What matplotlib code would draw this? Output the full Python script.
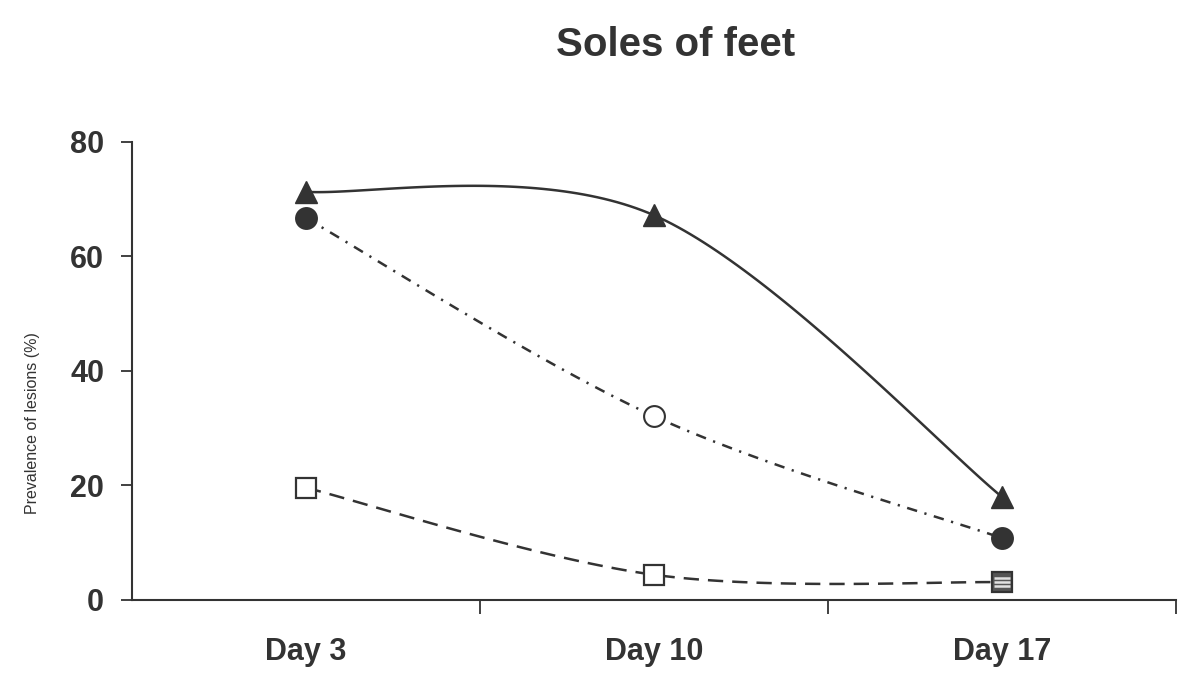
import numpy as np
import matplotlib
matplotlib.use("Agg")
import matplotlib.pyplot as plt
from matplotlib.path import Path

plt.rcParams['font.family'] = ['Liberation Sans', 'DejaVu Sans']
plt.rcParams['lines.scale_dashes'] = False

# ---- data ----
categories = ["Day 3", "Day 10", "Day 17"]
triangle_vals = [71.3, 67.2, 18.0]
circle_vals = [66.7, 32.1, 10.8]
square_vals = [19.6, 4.4, 3.1]
y_ticks = [0, 20, 40, 60, 80]
title = "Soles of feet"
ylabel = "Prevalence of lesions (%)"

INK = "#333333"


def smooth(xs, ys, n=60):
    """Excel-like smoothed line (Catmull-Rom style Bezier)."""
    P = np.column_stack([xs, ys]).astype(float)
    k = len(P)
    ext = np.vstack([P[0], P, P[-1]])
    out = []
    for i in range(k - 1):
        p0, p1, p2, p3 = ext[i], ext[i + 1], ext[i + 2], ext[i + 3]
        c1 = p1 + (p2 - p0) / 6.0
        c2 = p2 - (p3 - p1) / 6.0
        t = np.linspace(0, 1, n)[:, None]
        seg = ((1 - t) ** 3) * p1 + 3 * ((1 - t) ** 2) * t * c1 + 3 * (1 - t) * t ** 2 * c2 + t ** 3 * p2
        out.append(seg if i == 0 else seg[1:])
    c = np.vstack(out)
    return c[:, 0], c[:, 1]


fig = plt.figure(figsize=(12, 6.96), dpi=100)
ax = fig.add_axes([0.11, 0.138, 0.87, 0.658])

x = np.arange(len(categories))

# lines
sx, sy = smooth(x, triangle_vals)
ax.plot(sx, sy, color=INK, lw=1.8, solid_capstyle='butt', zorder=2)
sx, sy = smooth(x, circle_vals)
ax.plot(sx, sy, color=INK, lw=1.8, dashes=(7.5, 5.5, 1.6, 5.5), zorder=2)
sx, sy = smooth(x, square_vals)
ax.plot(sx, sy, color=INK, lw=1.8, dashes=(11.0, 6.5), zorder=2)

# markers
ax.plot(x, triangle_vals, ls='none', marker='^', ms=16, color=INK, mec=INK, zorder=4)
circ_fill = [INK, 'white', INK]
for xi, yi, fc in zip(x, circle_vals, circ_fill):
    ax.plot([xi], [yi], ls='none', marker='o', ms=15, mfc=fc, mec=INK, mew=1.5, zorder=4)
sq_fill = ['white', 'white', '#555555']
for xi, yi, fc in zip(x, square_vals, sq_fill):
    ax.plot([xi], [yi], ls='none', marker='s', ms=15, mfc=fc, mec=INK, mew=1.6, zorder=4)
stripes = Path([(-1, -0.5), (1, -0.5), (-1, 0.0), (1, 0.0), (-1, 0.5), (1, 0.5)],
               [Path.MOVETO, Path.LINETO, Path.MOVETO, Path.LINETO, Path.MOVETO, Path.LINETO])
ax.plot([x[2]], [square_vals[2]], ls='none', marker=stripes, ms=12, mec='#e0e0e0', mew=1.8, zorder=5)

# axes
ax.set_xlim(-0.5, 2.5)
ax.set_ylim(0, 80)
for s in ['top', 'right']:
    ax.spines[s].set_visible(False)
for s in ['left', 'bottom']:
    ax.spines[s].set_color(INK)
    ax.spines[s].set_linewidth(1.5)

ax.set_yticks(y_ticks)
ax.set_yticklabels([str(v) for v in y_ticks], fontsize=22, fontweight='bold', color=INK)
ax.tick_params(axis='y', direction='out', length=8, width=1.3, color=INK, pad=12)

ax.set_xticks([0.5, 1.5, 2.5])
ax.set_xticklabels([])
ax.tick_params(axis='x', direction='out', length=10, width=1.3, color=INK)
ax.set_xticks(x, minor=True)
ax.set_xticklabels(categories, minor=True, fontsize=22, fontweight='bold', color=INK)
ax.tick_params(axis='x', which='minor', length=0, pad=27)

fig.text(0.027, 0.392, ylabel, rotation=90, ha='center', va='center', fontsize=11.5, color=INK)
fig.text(0.563, 0.935, title, ha='center', va='center', fontsize=29, fontweight='bold', color=INK)

fig.savefig("out.png", dpi=100, facecolor='white')
